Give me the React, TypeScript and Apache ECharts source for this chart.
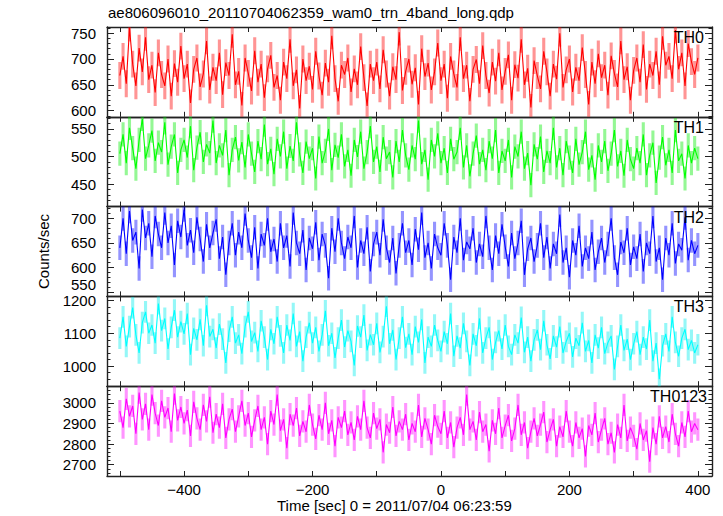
import React, { useEffect, useRef } from "react";
import * as echarts from "echarts";

// ---- data ----
const TITLE = "ae806096010_20110704062359_wam0_trn_4band_long.qdp";
const X_NAME = "Time [sec] 0 = 2011/07/04 06:23:59";
const Y_NAME = "Counts/sec";
const PANEL_NAMES = ["TH0", "TH1", "TH2", "TH3", "TH0123"];

const T_START = -500; // first bin time (s)
const T_STEP = 5; // sampled spacing used for the hand-read points (s)

const TH0 = [
  668, 705, 652, 760, 690, 648, 721, 675, 742, 660,
  688, 635, 712, 670, 648, 700, 628, 691, 655, 725,
  662, 690, 615, 680, 702, 646, 671, 735, 640, 684,
  658, 712, 631, 693, 668, 748, 650, 676, 610, 702,
  672, 638, 716, 655, 690, 625, 681, 707, 645, 668,
  620, 694, 662, 738, 648, 679, 604, 700, 658, 686,
  641, 715, 667, 630, 692, 655, 745, 662, 618, 688,
  670, 702, 636, 681, 650, 724, 664, 609, 690, 658,
  694, 642, 718, 671, 628, 685, 660, 752, 639, 676,
  700, 651, 683, 612, 720, 666, 692, 640, 675, 731,
  658, 690, 624, 705, 671, 645, 742, 662, 688, 618,
  680, 699, 652, 726, 668, 634, 694, 657, 712, 640,
  676, 708, 620, 689, 663, 738, 650, 682, 606, 697,
  668, 642, 715, 675, 628, 690, 661, 750, 645, 679,
  700, 636, 684, 658, 722, 670, 612, 694, 652, 710,
  664, 688, 630, 706, 672, 646, 735, 660, 685, 620,
  678, 702, 655, 728, 641, 690, 668, 715, 650, 744,
  688, 705, 662, 756, 680, 712, 648, 730, 695, 670,
  702,
];
const TH1 = [
  505, 540, 488, 552, 515, 478, 530, 568, 496, 520,
  547, 492, 525, 508, 562, 485, 518, 540, 470, 512,
  530, 498, 555, 475, 516, 544, 490, 522, 506, 565,
  488, 520, 502, 548, 466, 512, 535, 493, 526, 480,
  540, 505, 472, 528, 495, 558, 486, 514, 468, 532,
  500, 545, 478, 519, 492, 562, 504, 470, 527, 496,
  515, 460, 536, 488, 510, 550, 475, 521, 498, 540,
  482, 512, 465, 530, 499, 545, 478, 508, 555, 490,
  518, 472, 535, 496, 508, 462, 528, 490, 548, 502,
  476, 520, 495, 565, 486, 512, 458, 530, 500, 542,
  488, 515, 470, 532, 495, 508, 552, 480, 520, 464,
  505, 538, 486, 512, 475, 528, 496, 548, 470, 510,
  492, 530, 462, 518, 500, 545, 478, 506, 448, 522,
  495, 536, 472, 510, 488, 552, 480, 515, 466, 528,
  498, 470, 532, 485, 508, 545, 476, 502, 458, 520,
  490, 528, 474, 505, 548, 482, 510, 465, 530, 495,
  478, 515, 488, 540, 466, 502, 525, 452, 498, 535,
  484, 512, 470, 548, 492, 505, 460, 520, 488, 515,
  496,
];
const TH2 = [
  640, 700, 628, 715, 655, 672, 598, 718, 660, 690,
  622, 705, 668, 640, 712, 650, 685, 605, 695, 662,
  718, 645, 676, 630, 702, 658, 612, 688, 640, 670,
  698, 618, 662, 585, 650, 690, 625, 672, 640, 710,
  655, 620, 682, 598, 668, 645, 700, 632, 658, 612,
  690, 640, 665, 602, 712, 650, 628, 676, 595, 660,
  638, 692, 615, 668, 645, 578, 680, 632, 700, 650,
  618, 662, 640, 705, 600, 655, 628, 682, 592, 648,
  672, 625, 698, 640, 610, 660, 588, 645, 690, 630,
  655, 605, 678, 636, 712, 620, 650, 598, 668, 640,
  625, 690, 645, 575, 662, 630, 700, 615, 652, 638,
  680, 610, 648, 622, 705, 640, 595, 665, 628, 688,
  642, 602, 670, 618, 650, 695, 585, 638, 660, 612,
  645, 690, 620, 662, 598, 648, 628, 708, 610, 640,
  580, 655, 625, 685, 602, 640, 618, 672, 595, 632,
  660, 610, 648, 700, 620, 585, 652, 630, 680, 605,
  642, 618, 668, 592, 650, 628, 705, 612, 640, 575,
  660, 625, 690, 608, 648, 635, 702, 615, 655, 628,
  645,
];
const TH3 = [
  1085, 1150, 1060, 1120, 1178, 1095, 1040, 1132, 1165, 1100,
  1125, 1070, 1190, 1108, 1145, 1052, 1118, 1170, 1088, 1135,
  1098, 1160, 1035, 1115, 1080, 1142, 1062, 1185, 1090, 1112,
  1055, 1128, 1082, 1010, 1106, 1150, 1070, 1095, 1038, 1120,
  1165, 1075, 1102, 1045, 1138, 1088, 1020, 1112, 1068, 1150,
  1092, 1040, 1125, 1078, 1160, 1060, 1105, 1015, 1088, 1132,
  1070, 1118, 1045, 1095, 1168, 1062, 1100, 1025, 1085, 1140,
  1058, 1108, 1075, 1002, 1122, 1088, 1155, 1048, 1096, 1065,
  1130, 1042, 1090, 1182, 1068, 1110, 1020, 1085, 1150, 1056,
  1098, 1035, 1120, 1072, 1142, 1010, 1088, 1060, 1125, 1078,
  1045, 1105, 1068, 1160, 1030, 1092, 1055, 1130, 1075, 1002,
  1098, 1062, 1145, 1040, 1085, 1118, 1020, 1072, 1108, 1052,
  1125, 1060, 1035, 1095, 1070, 1148, 1042, 1088, 1015, 1080,
  1110, 1050, 1138, 1065, 1022, 1092, 1058, 1120, 1040, 1075,
  1100, 1028, 1085, 1062, 1132, 1045, 1078, 1010, 1095, 1055,
  1118, 1038, 1072, 1092, 990, 1060, 1125, 1048, 1082, 1020,
  1068, 1105, 1035, 1088, 1052, 1140, 1015, 1070, 960, 1062,
  1098, 1045, 1150, 1072, 1030, 1085, 1112, 1050, 1078, 1040,
  1065,
];
const TH0123 = [
  2960, 2880, 3020, 2935, 2985, 2850, 3050, 2920, 2995, 2870,
  3040, 2950, 2890, 3010, 2930, 2975, 2860, 3045, 2915, 2980,
  2900, 2965, 2840, 3005, 2925, 2870, 2990, 2910, 3030, 2855,
  2945, 2880, 2995, 2830, 2920, 2970, 2860, 2935, 3010, 2890,
  2950, 2835, 2915, 2985, 2870, 2930, 2800, 2960, 2895, 3040,
  2865, 2920, 2780, 2945, 2890, 2975, 2840, 2910, 2860, 2990,
  2895, 2825, 2940, 2870, 3000, 2850, 2915, 2790, 2930, 2880,
  2960, 2845, 2905, 2820, 2935, 2870, 3010, 2880, 2830, 2950,
  2875, 2920, 2760, 2895, 2855, 2980, 2840, 2910, 2870, 2945,
  2820, 2900, 2860, 2990, 2835, 2925, 2870, 2800, 2940, 2885,
  2850, 2960, 2830, 2905, 2785, 2880, 2930, 2845, 3040, 2870,
  2910, 2820, 2955, 2860, 2895, 2765, 2915, 2850, 2975, 2830,
  2890, 2940, 2815, 2875, 2990, 2845, 2905, 2780, 2860, 2925,
  2840, 2895, 2955, 2810, 2870, 2920, 2790, 2885, 2835, 2960,
  2860, 2790, 2905, 2830, 2875, 2740, 2890, 2845, 2950, 2810,
  2870, 2925, 2800, 2855, 2760, 2895, 2830, 2990, 2815, 2880,
  2840, 2775, 2900, 2820, 2865, 2715, 2880, 2800, 2935, 2830,
  2885, 2810, 2945, 2850, 2790, 2905, 2835, 2960, 2860, 2900,
  2870,
];
// typical 1-sigma error bar half-length per band (counts/sec)
const ERRORS = [26, 22, 25, 33, 54];

// axis ranges and tick labels
const X_MIN = -520;
const X_MAX = 422;
const X_TICKS = [-500, -400, -300, -200, -100, 0, 100, 200, 300, 400];
const X_LABELS = [-400, -200, 0, 200, 400];
const Y_RANGES = [
  [588, 762],
  [409, 572],
  [541, 724],
  [939, 1212],
  [2645, 3081],
];
const Y_LABELS = [
  [600, 650, 700, 750],
  [450, 500, 550],
  [550, 600, 650, 700],
  [1000, 1100, 1200],
  [2700, 2800, 2900, 3000],
];
const Y_MINOR_STEP = [10, 10, 10, 20, 20];

const SERIES = [TH0, TH1, TH2, TH3, TH0123];

// ---- styles ----
const COLORS = ["#ff0000", "#00ff00", "#0000ff", "#00ffff", "#ff00ff"];
const ERR_COLORS = [
  "rgba(255,0,0,0.42)",
  "rgba(0,235,0,0.42)",
  "rgba(0,0,255,0.42)",
  "rgba(0,235,235,0.42)",
  "rgba(255,0,255,0.42)",
];
const FONT = "'Liberation Sans', Arial, Helvetica, sans-serif";
const AXIS_COLOR = "#222";
const GRID_LEFT = 107;
const GRID_RIGHT = 11;
const GRID_TOP = 27;
const PANEL_H = 89.8;

function minorTicks(i: number): number[] {
  const [lo, hi] = Y_RANGES[i];
  const s = Y_MINOR_STEP[i];
  const out: number[] = [];
  for (let v = Math.ceil(lo / s) * s; v <= hi; v += s) out.push(v);
  return out;
}

function buildOption() {
  const grid: any[] = [];
  const xAxis: any[] = [];
  const yAxis: any[] = [];
  const series: any[] = [];
  const lineStyle = { color: AXIS_COLOR, width: 1.4 };
  const tickStyle = { color: AXIS_COLOR, width: 1 };
  const yLabelStyle = {
    show: true,
    margin: 11,
    fontSize: 15,
    lineHeight: 11,
    color: "#000",
    fontFamily: FONT,
    formatter: (v: number) => String(v),
  };

  SERIES.forEach((vals, i) => {
    grid.push({
      left: GRID_LEFT,
      right: GRID_RIGHT,
      top: GRID_TOP + i * PANEL_H,
      height: PANEL_H,
      containLabel: false,
    });
    const isLast = i === SERIES.length - 1;
    xAxis.push({
      type: "value",
      gridIndex: i,
      position: "bottom",
      min: X_MIN,
      max: X_MAX,
      axisLine: { show: true, onZero: false, lineStyle },
      axisTick: { show: true, inside: true, length: 5, customValues: X_TICKS, lineStyle: tickStyle },
      axisLabel: isLast
        ? {
            show: true,
            customValues: X_LABELS,
            margin: 6,
            fontSize: 15,
            color: "#000",
            fontFamily: FONT,
            formatter: (v: number) => String(v).replace("-", "\u2212"),
          }
        : { show: false },
      splitLine: { show: false },
    });
    xAxis.push({
      type: "value",
      gridIndex: i,
      position: "top",
      min: X_MIN,
      max: X_MAX,
      axisLine: { show: true, onZero: false, lineStyle },
      axisTick: { show: true, inside: true, length: 5, customValues: X_TICKS, lineStyle: tickStyle },
      axisLabel: { show: false },
      splitLine: { show: false },
    });
    const [ymin, ymax] = Y_RANGES[i];
    const minors = minorTicks(i);
    const labels = Y_LABELS[i];
    // the lowest label of TH2 sits at the panel bottom, next to TH3's top label:
    // draw it bottom-aligned so the two do not collide
    const lowLabel = i === 2 ? [labels[0]] : [];
    const mainLabels = i === 2 ? labels.slice(1) : labels;
    const baseY = { type: "value", gridIndex: i, min: ymin, max: ymax, splitLine: { show: false } };
    yAxis.push({
      ...baseY,
      position: "left",
      offset: 0,
      axisLine: { show: true, onZero: false, lineStyle },
      axisTick: { show: true, inside: true, length: 3.5, customValues: minors, lineStyle: tickStyle },
      axisLabel: lowLabel.length
        ? { ...yLabelStyle, customValues: lowLabel, verticalAlign: "bottom", lineHeight: 14 }
        : { show: false },
    });
    yAxis.push({
      ...baseY,
      position: "left",
      offset: 0,
      axisLine: { show: false, onZero: false },
      axisTick: { show: true, inside: true, length: 7, customValues: labels, lineStyle: tickStyle },
      axisLabel: { ...yLabelStyle, customValues: mainLabels },
    });
    yAxis.push({
      ...baseY,
      position: "right",
      offset: 0,
      axisLine: { show: true, onZero: false, lineStyle },
      axisTick: { show: true, inside: true, length: 3.5, customValues: minors, lineStyle: tickStyle },
      axisLabel: { show: false },
    });
    yAxis.push({
      ...baseY,
      position: "right",
      offset: 0,
      axisLine: { show: false, onZero: false },
      axisTick: { show: true, inside: true, length: 7, customValues: labels, lineStyle: tickStyle },
      axisLabel: { show: false },
    });

    const data = vals.map((v, k) => [T_START + k * T_STEP, v]);
    const err = ERRORS[i];
    const errColor = ERR_COLORS[i];
    series.push({
      type: "custom",
      name: PANEL_NAMES[i] + " err",
      xAxisIndex: 2 * i,
      yAxisIndex: 4 * i + 1,
      clip: true,
      silent: true,
      dimensions: ["t", "v"],
      encode: { x: 0, y: 1 },
      data,
      renderItem: (params: any, api: any) => {
        const x = api.value(0);
        const y = api.value(1);
        const p1 = api.coord([x, y - err]);
        const p2 = api.coord([x, y + err]);
        return {
          type: "line",
          shape: { x1: p1[0], y1: p1[1], x2: p2[0], y2: p2[1] },
          style: { stroke: errColor, lineWidth: 3.1 },
        };
      },
      z: 2,
    });
    series.push({
      type: "line",
      name: PANEL_NAMES[i],
      xAxisIndex: 2 * i,
      yAxisIndex: 4 * i + 1,
      data,
      showSymbol: false,
      symbol: "none",
      clip: true,
      silent: true,
      lineStyle: { color: COLORS[i], width: 1.1 },
      itemStyle: { color: COLORS[i] },
      z: 3,
    });
  });

  const graphic: any[] = [
    {
      type: "text",
      left: 108,
      top: 5,
      style: { text: TITLE, font: `15px ${FONT}`, fill: "#000" },
    },
    {
      type: "text",
      left: 277,
      top: 498,
      style: { text: X_NAME, font: `15px ${FONT}`, fill: "#000" },
    },
    {
      type: "text",
      x: 43,
      y: 251.5,
      rotation: Math.PI / 2,
      style: {
        text: Y_NAME,
        font: `15px ${FONT}`,
        fill: "#000",
        align: "center",
        verticalAlign: "middle",
      },
    },
  ];
  PANEL_NAMES.forEach((name, i) => {
    graphic.push({
      type: "text",
      x: i === 4 ? 707 : 704,
      y: GRID_TOP + i * PANEL_H + 10.5,
      z: 10,
      style: {
        text: name,
        font: `16px ${FONT}`,
        fill: "#000",
        align: "right",
        verticalAlign: "middle",
      },
    });
  });

  return {
    animation: false,
    backgroundColor: "#fff",
    textStyle: { fontFamily: FONT },
    grid,
    xAxis,
    yAxis,
    series,
    graphic,
  };
}

export default function App() {
  const ref = useRef<HTMLDivElement>(null);
  useEffect(() => {
    if (!ref.current) return;
    const chart = echarts.init(ref.current, undefined, { renderer: "svg" });
    chart.setOption(buildOption());
    return () => chart.dispose();
  }, []);
  return (
    <div
      ref={ref}
      style={{ position: "fixed", left: 0, top: 0, width: 723, height: 516, background: "#fff" }}
    />
  );
}
